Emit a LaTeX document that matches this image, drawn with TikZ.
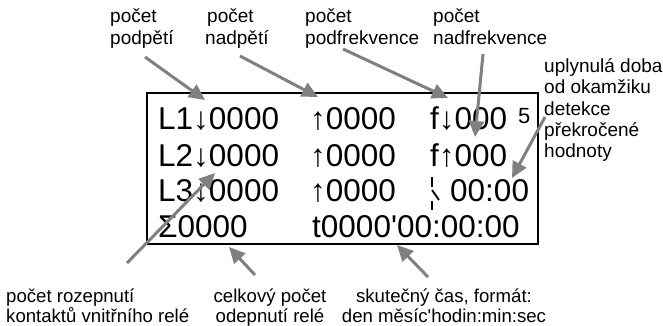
\documentclass[tikz,border=0pt]{standalone}
\usepackage{fontspec}
\setmainfont{Liberation Sans}
\newfontfamily\plainsans{Liberation Sans}
\usetikzlibrary{arrows.meta}
\definecolor{arrgray}{HTML}{808080}
\tikzset{
  lbl/.style={inner sep=0pt, anchor=base west, font=\plainsans\fontsize{19}{22}\selectfont},
  lblb/.style={inner sep=0pt, anchor=base west, font=\plainsans\fontsize{18.6}{22}\selectfont},
  lblc/.style={inner sep=0pt, anchor=base, font=\plainsans\fontsize{18.6}{22}\selectfont},
  disp/.style={inner sep=0pt, anchor=base west, font=\plainsans\fontsize{31.5}{34}\selectfont},
  sup5/.style={inner sep=0pt, anchor=base west, font=\plainsans\fontsize{22}{24}\selectfont},
  callout/.style={draw=arrgray, line width=3pt, -{Triangle[length=16pt,width=15pt]}},
  glyphline/.style={line width=1.8pt}
}
\begin{document}
\begin{tikzpicture}[x=1pt,y=-1pt]
\useasboundingbox (0,0) rectangle (663,326);
% display box
\draw[line width=2pt] (147,93) rectangle (538,244);
% display rows
\node[disp] (r1a) at (158,129) {L1↓0000};
\node[disp] (r1b) at (310,129) {↑0000};
\node[disp] (r1c) at (430,129) {f↓000};
\node[sup5] (r1d) at (518,123) {5};
\node[disp] (r2a) at (158,166) {L2↓0000};
\node[disp] (r2b) at (310,166) {↑0000};
\node[disp] (r2c) at (430,166) {f↑000};
\node[disp] (r3a) at (158,201) {L3↓0000};
\node[disp] (r3b) at (310,201) {↑0000};
\node[disp] (r3c) at (450,201) {00:00};
\node[disp] (r4a) at (158,237) {Σ0000};
\node[disp] (r4b) at (312,237) {t0000'00:00:00};
% broken glyph in row 3
\draw[glyphline] (432,177) -- (432,187);
\draw[glyphline] (432,190) -- (439,200);
\draw[glyphline] (432,201) -- (432,210);
% top labels
\node[lbl] (t1a) at (110,23) {počet};
\node[lbl] (t1b) at (110,45) {podpětí};
\node[lbl] (t2a) at (207,23) {počet};
\node[lbl] (t2b) at (205,45) {nadpětí};
\node[lbl] (t3a) at (305,23) {počet};
\node[lbl] (t3b) at (305,45) {podfrekvence};
\node[lbl] (t4a) at (433,23) {počet};
\node[lbl] (t4b) at (433,45) {nadfrekvence};
% right label
\node[lbl] (u1) at (544,73) {uplynulá doba};
\node[lbl] (u2) at (544,94) {od okamžiku};
\node[lbl] (u3) at (544,115) {detekce};
\node[lbl] (u4) at (544,136) {překročené};
\node[lbl] (u5) at (544,157) {hodnoty};
% bottom labels
\node[lblb] (b1a) at (6,302) {počet rozepnutí};
\node[lblb] (b1b) at (6,322) {kontaktů vnitřního relé};
\node[lblc] (b2a) at (270,302) {celkový počet};
\node[lblc] (b2b) at (270,322) {odepnutí relé};
\node[lblc] (b3a) at (444,302) {skutečný čas, formát:};
\node[lblc] (b3b) at (444,322) {den měsíc'hodin:min:sec};
% arrow endpoints
\coordinate (a1s) at (145,57);  \coordinate (a1e) at (205,100);
\coordinate (a2s) at (240,56);  \coordinate (a2e) at (318,97);
\coordinate (a3s) at (343,49);  \coordinate (a3e) at (448,98);
\coordinate (a4s) at (483,54);  \coordinate (a4e) at (475,137);
\coordinate (a5s) at (545,117); \coordinate (a5e) at (512,178);
\coordinate (a6s) at (127,263); \coordinate (a6e) at (215,173);
\coordinate (a7s) at (255,275); \coordinate (a7e) at (229,247);
\coordinate (a8s) at (428,277); \coordinate (a8e) at (397,245);
\foreach \i in {1,...,8} {\draw[callout] (a\i s) -- (a\i e);}
\end{tikzpicture}
\end{document}
